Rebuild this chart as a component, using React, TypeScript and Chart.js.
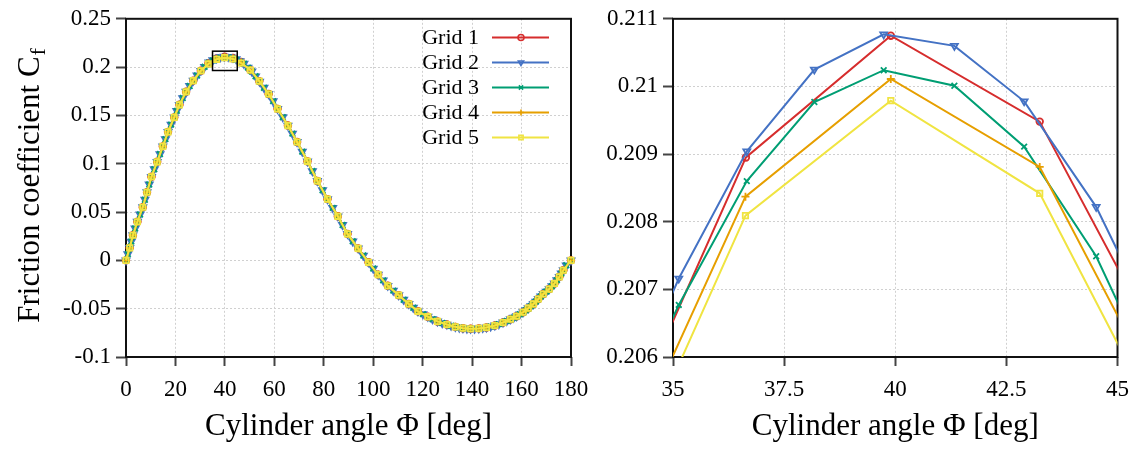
import React, { useEffect, useRef } from "react";
import { Chart, registerables } from "chart.js";
import { drawPoint } from "chart.js/helpers";

Chart.register(...registerables);

const FONT = "'Liberation Serif', 'Times New Roman', serif";

// ---------- series styling ----------
const gridLabels = ["Grid 1", "Grid 2", "Grid 3", "Grid 4", "Grid 5"];
const gridColors = ["#d62d2d", "#4472c4", "#009e73", "#e69f00", "#f0e442"];
const gridPointStyles = ["circle", "triangle", "crossRot", "cross", "rect"];
const gridPointRotations = [0, 180, 0, 0, 0];
const gridPointRadius = [3.3, 4, 4, 4, 3.8];

// ---------- full-range profile (coarse grids: 1, 4, 5) ----------
const coarseAngle = [0, 1.5, 2.8, 4.6, 6.8, 8.5, 10.3, 12.6, 14.9, 17.0, 19.5, 21.6, 24.3, 27.2, 30.3,
  50.3, 53.9, 57.7, 61.3, 65.5, 69.2, 73.4, 77.4, 81.5, 85.7, 89.6, 93.9, 98.1, 102.0, 105.9,
  110.3, 114.4, 118.1, 122.1, 126.0, 129.8, 133.2, 136.3, 139.4, 142.7, 145.8, 149.2, 152.5, 155.5, 158.0,
  160.6, 162.7, 164.8, 166.8, 168.8, 171.2, 173.3, 175.3, 176.9, 180];
const coarseCf = [0, 0.013, 0.026, 0.04, 0.055, 0.0705, 0.0865, 0.102, 0.118, 0.133, 0.148, 0.161, 0.1745, 0.186, 0.1962,
  0.197, 0.1855, 0.1722, 0.1568, 0.1395, 0.1225, 0.1025, 0.0822, 0.0634, 0.0456, 0.0274, 0.0124, -0.002, -0.0147, -0.0263,
  -0.036, -0.0451, -0.0527, -0.0583, -0.0632, -0.0664, -0.0688, -0.0702, -0.0708, -0.0704, -0.0694, -0.0674, -0.0643, -0.0609, -0.0578,
  -0.0537, -0.0495, -0.0451, -0.04, -0.0348, -0.0297, -0.0239, -0.017, -0.0102, 0];

// ---------- full-range profile (fine grids: 2, 3) ----------
const fineAngle = [0, 0.75, 1.5, 2.15, 2.8, 3.7, 4.6, 5.7, 6.8, 7.65, 8.5, 9.4, 10.3, 11.45, 12.6, 13.75, 14.9, 15.95,
  17.0, 18.25, 19.5, 20.55, 21.6, 22.95, 24.3, 25.75, 27.2, 28.75, 30.3, 31.8,
  47.7, 49.3, 50.9, 52.4, 54.0, 55.8, 57.7, 59.5, 61.3, 63.4, 65.5, 67.3, 69.2, 71.3, 73.4, 75.4, 77.4, 79.5,
  81.5, 83.6, 85.7, 87.6, 89.6, 91.7, 93.9, 96.0, 98.1, 100.0, 102.0, 104.0, 105.9, 108.1, 110.3, 112.3, 114.4,
  116.2, 118.1, 120.1, 122.1, 124.0, 126.0, 127.9, 129.8, 131.5, 133.2, 134.8, 136.3, 137.9, 139.4, 141.0, 142.7,
  144.3, 145.8, 147.5, 149.2, 150.8, 152.5, 154.0, 155.5, 156.8, 158.0, 159.3, 160.6, 161.7, 162.7, 163.8, 164.8,
  165.8, 166.8, 167.8, 168.8, 170.0, 171.2, 172.3, 173.3, 174.3, 175.3, 176.1, 176.9, 178.1, 180];
const fineCf = [0, 0.0065, 0.013, 0.0195, 0.026, 0.033, 0.04, 0.0475, 0.055, 0.0628, 0.0705, 0.0785, 0.0865, 0.0943, 0.102, 0.11, 0.118, 0.1255,
  0.133, 0.1405, 0.148, 0.1547, 0.161, 0.168, 0.1745, 0.1805, 0.186, 0.1913, 0.1962, 0.2003,
  0.2035, 0.1995, 0.1955, 0.1905, 0.185, 0.1787, 0.1722, 0.1648, 0.1568, 0.1482, 0.1395, 0.1312, 0.1225, 0.1125, 0.1025, 0.0924, 0.0822, 0.0726,
  0.0634, 0.0543, 0.0456, 0.0366, 0.0274, 0.0197, 0.0124, 0.005, -0.002, -0.0085, -0.0147, -0.0207, -0.0263, -0.0313, -0.036, -0.0407, -0.0451,
  -0.049, -0.0527, -0.0556, -0.0583, -0.0609, -0.0632, -0.0649, -0.0664, -0.0677, -0.0688, -0.0696, -0.0702, -0.0706, -0.0708, -0.0707, -0.0704,
  -0.07, -0.0694, -0.0685, -0.0674, -0.066, -0.0643, -0.0627, -0.0609, -0.0594, -0.0578, -0.0558, -0.0537, -0.0516, -0.0495, -0.0473, -0.0451,
  -0.0426, -0.04, -0.0374, -0.0348, -0.0323, -0.0297, -0.0268, -0.0239, -0.0205, -0.017, -0.0136, -0.0102, -0.0051, 0];

// ---------- peak region, per grid ----------
const grid1Angle = [33.35, 36.64, 39.9, 43.25, 46.55];
const grid1Cf = [0.2041, 0.20895, 0.21075, 0.20948, 0.20541];
const grid2Angle = [33.55, 35.13, 36.66, 38.18, 39.74, 41.33, 42.9, 44.52, 46.1];
const grid2Cf = [0.2048, 0.20716, 0.20904, 0.21025, 0.21077, 0.2106, 0.20978, 0.20822, 0.20609];
const grid3Angle = [33.55, 35.13, 36.66, 38.18, 39.74, 41.33, 42.9, 44.52, 46.1];
const grid3Cf = [0.20455, 0.20677, 0.2086, 0.20977, 0.21024, 0.21001, 0.20911, 0.20749, 0.20527];
const grid4Angle = [33.35, 36.63, 39.9, 43.25, 46.55];
const grid4Cf = [0.20364, 0.20837, 0.21011, 0.20881, 0.20467];
const grid5Angle = [33.35, 36.63, 39.9, 43.25, 46.55];
const grid5Cf = [0.20327, 0.20809, 0.20979, 0.20842, 0.20424];

// ---------- axes ----------
const xTitle = "Cylinder angle \u03A6 [deg]";
const yTitleMain = "Friction coefficient C";
const yTitleSub = "f";
const leftXRange = [0, 180];
const leftXStep = 20;
const leftYRange = [-0.1, 0.25];
const leftYStep = 0.05;
const rightXRange = [35, 45];
const rightXStep = 2.5;
const rightYRange = [0.206, 0.211];
const rightYStep = 0.001;
const zoomBoxAngle = [35, 45];
const zoomBoxCf = [0.1965, 0.2165];
const peakWindow = [33, 47];

type Pt = { x: number; y: number };

function pairs(a: number[], c: number[]): Pt[] {
  return a.map((x, i) => ({ x, y: c[i] }));
}

function merged(baseA: number[], baseC: number[], zA: number[], zC: number[]): Pt[] {
  const pts = pairs(baseA, baseC).filter((p) => p.x < peakWindow[0] || p.x > peakWindow[1]);
  return pts.concat(pairs(zA, zC)).sort((p, q) => p.x - q.x);
}

function fmt(v: any) {
  return String(parseFloat(Number(v).toFixed(4)));
}

function makeDatasets(data: Pt[][], clip: any) {
  return gridLabels.map((label, i) => ({
    label,
    data: data[i],
    borderColor: gridColors[i],
    backgroundColor: "rgba(0,0,0,0)",
    pointBorderColor: gridColors[i],
    pointBackgroundColor: "rgba(0,0,0,0)",
    borderWidth: 2,
    pointRadius: gridPointRadius[i],
    pointBorderWidth: 1.8,
    pointStyle: gridPointStyles[i],
    pointRotation: gridPointRotations[i],
    tension: 0,
    fill: false,
    clip,
    order: gridLabels.length - 1 - i,
  }));
}

function makeScales(xr: number[], xs: number, yr: number[], ys: number, yWidth: number) {
  const tickFont = { family: FONT, size: 23 };
  const grid = { color: "#d0d0d0", lineWidth: 1, tickColor: "#444", tickWidth: 2 };
  return {
    x: {
      type: "linear",
      min: xr[0],
      max: xr[1],
      afterFit: (s: any) => { s.height = 93; },
      ticks: { stepSize: xs, font: tickFont, color: "#000", padding: 10, maxRotation: 0, autoSkip: false, callback: fmt },
      grid: { ...grid, tickLength: 9 },
      border: { display: false, dash: [2, 2] },
      title: { display: true, text: xTitle, font: { family: FONT, size: 31 }, color: "#000", padding: { top: 0, bottom: 5 } },
    },
    y: {
      type: "linear",
      min: yr[0],
      max: yr[1],
      afterFit: (s: any) => { s.width = yWidth; },
      ticks: { stepSize: ys, font: tickFont, color: "#000", padding: 5, autoSkip: false, callback: fmt },
      grid: { ...grid, tickLength: 10 },
      border: { display: false, dash: [2, 2] },
    },
  };
}

const framePlugin = {
  id: "frame",
  beforeDatasetsDraw(chart: any) {
    const { ctx, chartArea: a } = chart;
    ctx.save();
    ctx.strokeStyle = "#111";
    ctx.lineWidth = 2;
    ctx.strokeRect(a.left, a.top, a.right - a.left, a.bottom - a.top);
    ctx.restore();
  },
};

const zoomBoxPlugin = {
  id: "zoomBox",
  afterDatasetsDraw(chart: any) {
    const { ctx } = chart;
    const xs = chart.scales.x, ys = chart.scales.y;
    const x1 = xs.getPixelForValue(zoomBoxAngle[0]);
    const x2 = xs.getPixelForValue(zoomBoxAngle[1]);
    const y1 = ys.getPixelForValue(zoomBoxCf[1]);
    const y2 = ys.getPixelForValue(zoomBoxCf[0]);
    ctx.save();
    ctx.strokeStyle = "#000";
    ctx.lineWidth = 1.5;
    ctx.strokeRect(x1, y1, x2 - x1, y2 - y1);
    ctx.restore();
  },
};

const legendPlugin = {
  id: "innerLegend",
  afterDraw(chart: any) {
    const { ctx } = chart;
    ctx.save();
    ctx.font = `22px ${FONT}`;
    ctx.textAlign = "right";
    ctx.textBaseline = "middle";
    chart.data.datasets.forEach((ds: any, i: number) => {
      const y = 37.5 + i * 25;
      ctx.fillStyle = "#000";
      ctx.fillText(ds.label, 479, y + 1);
      ctx.strokeStyle = ds.borderColor;
      ctx.lineWidth = 2;
      ctx.beginPath();
      ctx.moveTo(492, y);
      ctx.lineTo(549, y);
      ctx.stroke();
      ctx.fillStyle = "rgba(0,0,0,0)";
      ctx.strokeStyle = ds.pointBorderColor;
      ctx.lineWidth = 1.6;
      drawPoint(ctx, { pointStyle: ds.pointStyle, rotation: ds.pointRotation, radius: 3, borderWidth: 1.6 }, 521, y);
    });
    ctx.restore();
  },
};

const yTitlePlugin = {
  id: "yTitle",
  afterDraw(chart: any) {
    const { ctx, chartArea: a } = chart;
    ctx.save();
    ctx.translate(28, (a.top + a.bottom) / 2 - 2);
    ctx.rotate(-Math.PI / 2);
    ctx.fillStyle = "#000";
    ctx.textBaseline = "alphabetic";
    ctx.textAlign = "left";
    ctx.font = `31px ${FONT}`;
    const wMain = ctx.measureText(yTitleMain).width;
    ctx.font = `22px ${FONT}`;
    const wSub = ctx.measureText(yTitleSub).width;
    const start = -(wMain + wSub) / 2;
    ctx.font = `31px ${FONT}`;
    ctx.fillText(yTitleMain, start, 11);
    ctx.font = `22px ${FONT}`;
    ctx.fillText(yTitleSub, start + wMain + 1, 17);
    ctx.restore();
  },
};

function leftConfig(): any {
  const data = [
    merged(coarseAngle, coarseCf, grid1Angle, grid1Cf),
    merged(fineAngle, fineCf, grid2Angle, grid2Cf),
    merged(fineAngle, fineCf, grid3Angle, grid3Cf),
    merged(coarseAngle, coarseCf, grid4Angle, grid4Cf),
    merged(coarseAngle, coarseCf, grid5Angle, grid5Cf),
  ];
  return {
    type: "line",
    data: { datasets: makeDatasets(data, false) },
    options: {
      animation: false,
      responsive: false,
      layout: { padding: { top: 16, right: 29, left: 0, bottom: 0 } },
      plugins: { legend: { display: false }, tooltip: { enabled: false } },
      scales: makeScales(leftXRange, leftXStep, leftYRange, leftYStep, 126),
    },
    plugins: [framePlugin, zoomBoxPlugin, legendPlugin, yTitlePlugin],
  };
}

function rightConfig(): any {
  const data = [
    pairs(grid1Angle, grid1Cf),
    pairs(grid2Angle, grid2Cf),
    pairs(grid3Angle, grid3Cf),
    pairs(grid4Angle, grid4Cf),
    pairs(grid5Angle, grid5Cf),
  ];
  return {
    type: "line",
    data: { datasets: makeDatasets(data, 0) },
    options: {
      animation: false,
      responsive: false,
      layout: { padding: { top: 16, right: 21, left: 0, bottom: 0 } },
      plugins: { legend: { display: false }, tooltip: { enabled: false } },
      scales: makeScales(rightXRange, rightXStep, rightYRange, rightYStep, 73),
    },
    plugins: [framePlugin],
  };
}

function ChartCanvas({ make, left, width }: { make: () => any; left: number; width: number }) {
  const ref = useRef<HTMLCanvasElement | null>(null);
  useEffect(() => {
    const chart = new Chart(ref.current as HTMLCanvasElement, make());
    return () => chart.destroy();
  }, []);
  return (
    <canvas
      ref={ref}
      width={width}
      height={450}
      style={{ position: "absolute", left, top: 0, width, height: 450 }}
    />
  );
}

export default function App() {
  return (
    <div style={{ position: "absolute", left: 0, top: 0, width: 1139, height: 450, background: "#fff", overflow: "hidden" }}>
      <ChartCanvas make={leftConfig} left={0} width={600} />
      <ChartCanvas make={rightConfig} left={600} width={539} />
    </div>
  );
}
